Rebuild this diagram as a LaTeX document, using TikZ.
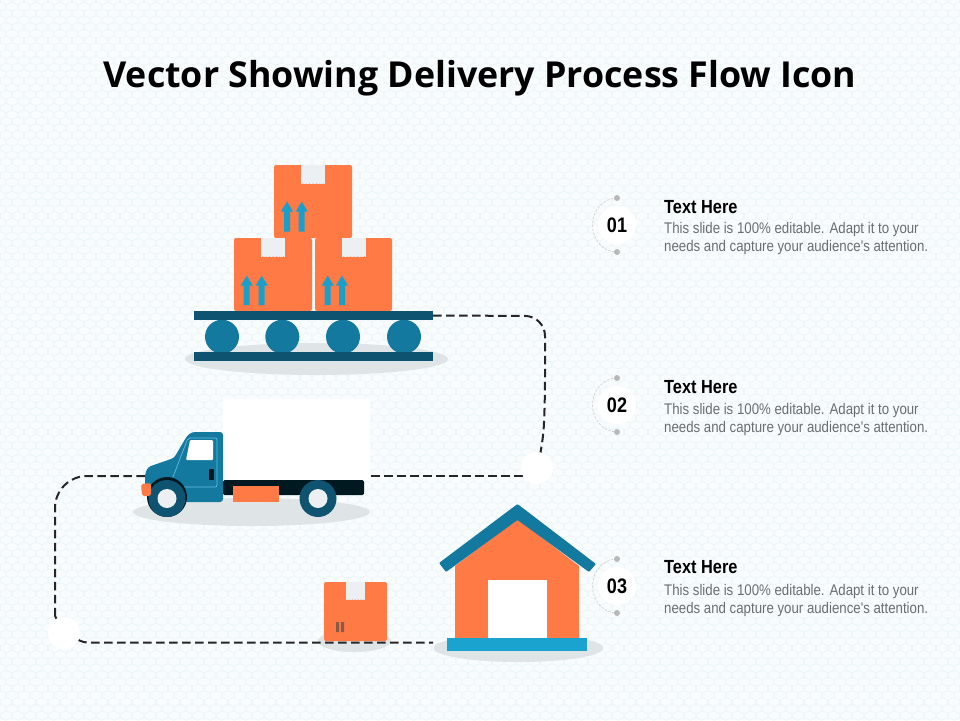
\documentclass[tikz,border=0pt]{standalone}
\usepackage{fontspec}
\setmainfont{Liberation Sans}
\newfontfamily\titlefont{Open Sans}
\newfontfamily\narrowfont[FakeStretch=0.86]{Liberation Sans}
\usetikzlibrary{patterns,backgrounds}
\definecolor{bgc}{HTML}{F8FCFD}
\definecolor{hexc}{HTML}{EAF5F7}
\definecolor{boxor}{HTML}{FF7A45}
\definecolor{darkb}{HTML}{0E5470}
\definecolor{midb}{HTML}{14799F}
\definecolor{liteb}{HTML}{1BA3D0}
\definecolor{shad}{HTML}{DFE4E6}
\definecolor{tapec}{HTML}{EDF0F2}
\definecolor{txtg}{HTML}{6B6E70}
\definecolor{chassis}{HTML}{001820}
\pgfdeclarelayer{back}
\pgfdeclarelayer{conn}
\pgfsetlayers{back,conn,main}
\pgfdeclarepatternformonly{hexa}{\pgfqpoint{-1pt}{-1pt}}{\pgfqpoint{13pt}{14.5pt}}{\pgfqpoint{12pt}{13.5pt}}{
  \pgfsetlinewidth{0.6pt}
  \pgfpathmoveto{\pgfqpoint{0pt}{2.25pt}}\pgfpathlineto{\pgfqpoint{6pt}{0pt}}\pgfpathlineto{\pgfqpoint{12pt}{2.25pt}}
  \pgfpathlineto{\pgfqpoint{12pt}{6.75pt}}\pgfpathlineto{\pgfqpoint{6pt}{9pt}}\pgfpathlineto{\pgfqpoint{0pt}{6.75pt}}\pgfpathclose
  \pgfpathmoveto{\pgfqpoint{6pt}{9pt}}\pgfpathlineto{\pgfqpoint{6pt}{13.5pt}}
  \pgfusepath{stroke}}
\tikzset{
  x=1pt,y=-1pt,
  flow/.style={draw=black!85,line width=2pt,dash pattern=on 8.5pt off 4.5pt},
  bar/.style={fill=darkb,draw=none,inner sep=0pt,minimum height=9pt},
  roller/.style={fill=midb,draw=none},
  crate/.style={fill=boxor,draw=none,rounded corners=2pt},
  blank/.style={circle,fill=white,draw=none,inner sep=0pt,minimum size=32pt},
  numdisc/.style={circle,fill=white,draw=none,inner sep=0pt,minimum size=38pt,font=\narrowfont\bfseries\fontsize{21}{24}\selectfont,text=black},
  ringarc/.style={draw=black!20,line width=.6pt,dash pattern=on 2.5pt off 1.5pt},
  ringdot/.style={fill=black!28,draw=none},
  heading/.style={anchor=west,inner sep=0pt,font=\narrowfont\bfseries\fontsize{19}{21}\selectfont,text=black},
  desc/.style={anchor=west,inner sep=0pt,align=left,text=txtg,font=\narrowfont\fontsize{15.4}{18.6}\selectfont},
}
\newcommand{\tapepiece}[4]{% x1 y1 x2 y2
  \fill[tapec] (#1,#2) rectangle (#3,#4);
  \foreach \q in {0,1,2,3,4,5,6}{\fill[boxor] ({#1+(#3-#1)*(\q+.5)/7},#4+.5) circle (1.1pt);}}
\newcommand{\uparr}[3]{% x tip bottom
  \fill[liteb!90!midb] (#1,#2) -- (#1+6,#2+10) -- (#1+3,#2+10) -- (#1+3,#3) -- (#1-3,#3) -- (#1-3,#2+10) -- (#1-6,#2+10) -- cycle;}
\begin{document}
\begin{tikzpicture}
\useasboundingbox (0,0) rectangle (960,720);
\begin{pgfonlayer}{back}
  \fill[bgc] (0,0) rectangle (960,720);
  \fill[pattern=hexa,pattern color=hexc] (0,0) rectangle (960,720);
  % ground shadows
  \fill[shad] (316.5,359) ellipse [x radius=131.5,y radius=16];
  \fill[shad] (251.5,512) ellipse [x radius=118.5,y radius=14];
  \fill[shad] (354.5,641) ellipse [x radius=36.5,y radius=11];
  \fill[shad] (518.5,648) ellipse [x radius=85,y radius=14];
  % small parcel
  \fill[crate] (324,582) rectangle (387,641);
  \tapepiece{346}{582}{365}{600}
  \fill[black!45!boxor!60!gray] (336,622) rectangle (339,632) (341,622) rectangle (344,632);
\end{pgfonlayer}

\node[font=\titlefont\bfseries\fontsize{35.75}{40}\selectfont,text=black,inner sep=0pt] (title) at (480,78) {Vector Showing Delivery Process Flow Icon};

% crates on conveyor
\fill[crate] (274,165) rectangle (352,238);
\tapepiece{301}{165}{325}{184}
\uparr{287}{201.5}{231.5}\uparr{301.7}{201.5}{231.5}
\fill[crate] (234,238) rectangle (312,311);
\tapepiece{261}{238}{285}{257}
\uparr{246.7}{275.5}{305}\uparr{261.7}{275.5}{305}
\fill[crate] (315,238) rectangle (392,311);
\tapepiece{342}{238}{366}{257}
\uparr{327.7}{275.5}{305}\uparr{342}{275.5}{305}

% conveyor
\foreach \cx in {222,282.3,343,404}{\fill[roller] (\cx,336.7) circle (17pt);}
\node[bar,minimum width=239pt] (belt) at (313.5,315.5) {};
\node[bar,minimum width=239pt] (beltlow) at (313.5,356.5) {};

% truck
\node[fill=white,draw=none,inner sep=0pt,minimum width=147pt,minimum height=81pt] (cargo) at (296.5,439.5) {};
\fill[chassis,rounded corners=1.5pt] (223,480) rectangle (364,495);
\fill[boxor] (233,486) rectangle (279,502);
\fill[midb,rounded corners=3pt] (223,432) -- (192,432) -- (187,436) -- (174,458) -- (148,467) -- (145,474) -- (145,492) -- (160,502) -- (223,502) -- cycle;
\fill[white,rounded corners=1pt] (190,440) -- (213,440) -- (213,460) -- (186,460) -- cycle;
\draw[liteb!70!white,line width=.7pt,rounded corners=2pt] (173,477) -- (188,438) -- (217,438) -- (217,487) -- (180,487);
\fill[chassis] (209,469) rectangle (214,480);
\fill[chassis] (167,497) circle (20pt);
\fill[darkb] (167,498.5) circle (18.5pt);
\fill[tapec] (167,498.5) circle (9.5pt);
\fill[darkb] (318,498.5) circle (18.5pt);
\fill[tapec] (318,498.5) circle (9.5pt);
\fill[boxor,rounded corners=2.5pt] (141,484) -- (151,483) -- (151,496) -- (142,496) -- cycle;

% house
\fill[boxor] (455,638) -- (455,566) -- (517.5,519) -- (579,566) -- (579,638) -- cycle;
\fill[midb,rounded corners=1pt] (517.5,504) -- (596,564) -- (589,572) -- (517.5,520) -- (446,572) -- (439,563) -- cycle;
\fill[white] (488,580) rectangle (547,638);
\node[fill=liteb,draw=none,inner sep=0pt,minimum width=140pt,minimum height=13pt] (housebase) at (517,644.5) {};

% way-points
\node[blank] (w1) at (537,468) {};
\node[blank] (w2) at (64,633) {};

% connectors
\begin{pgfonlayer}{conn}
  \draw[flow,rounded corners=20pt] (belt.east) -- (545,316) -- (545,400) -- (543,445) -- (w1);
  \draw[flow] (w1.210) -- (cargo.east |- w1.210);
  \draw[flow,rounded corners=32pt] (cargo.west |- w1.210) -- (55,476) -- (55,616);
  \draw[flow] (55,616) -- (w2);
  \draw[flow,rounded corners=4pt] (w2) -- (84,642.6) -- (433,642.6);
\end{pgfonlayer}

% list markers
\foreach \n/\cy/\hy/\dy in {01/225/207/238.5, 02/405/387/419.5, 03/586/567/600.5}{
  \draw[ringarc] (617,\cy-27) arc [start angle=-90,end angle=-270,x radius=24.5,y radius=27];
  \fill[ringdot] (617,\cy-27) circle (3pt) (617,\cy+27) circle (3pt);
  \node[numdisc] (num\n) at (617,\cy) {\n};
  \node[heading] (head\n) at (664,\hy) {Text Here};
  \node[desc] (desc\n) at (664,\dy) {This slide is 100\% editable. Adapt it to your\\needs and capture your audience's attention.};
}
\end{tikzpicture}
\end{document}
